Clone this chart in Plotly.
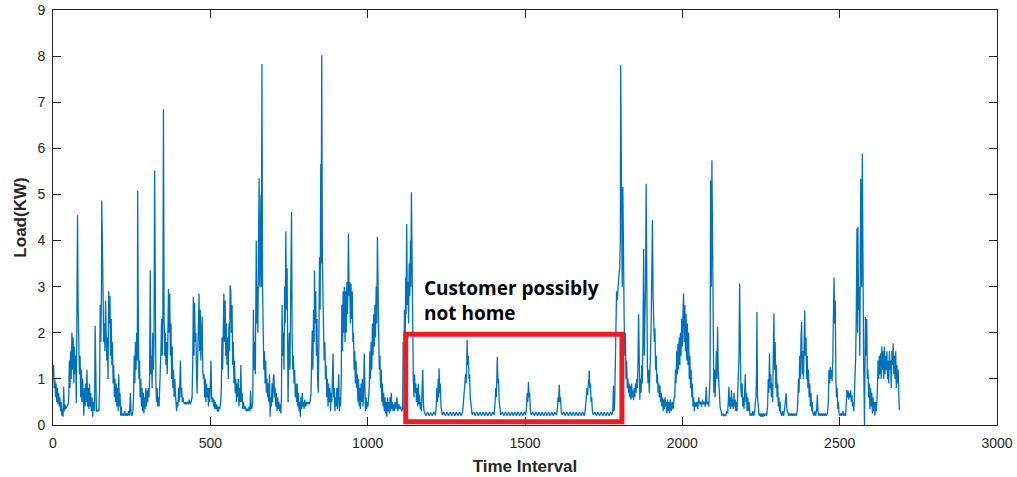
import plotly.graph_objects as go

# ---- data (time interval, load in kW) ----
seg_a = [(0,1.05),(2,1.3),(4,0.8),(6,1.0),(8,0.6),(10,0.9),(12,0.5),(14,0.8),(16,0.45),(18,0.7),(20,0.4),(22,0.6),(24,0.3),(26,0.5),(28,0.2),(30,0.35),(32,0.18),(34,0.83),(36,0.3),(38,0.45),(40,0.35),(44,0.4),(48,0.45),(50,0.6),(52,1.4),(54,0.8),(56,1.6),(58,1.0),(60,2.0),(62,1.2),(64,1.9),(66,0.9),(68,1.7),(70,1.1),(72,1.5),(74,0.47),(76,3.8),(78,4.55),(80,2.5),(82,1.5),(84,1.1),(86,1.5),(88,0.6),(90,1.2),(92,0.5),(94,1.0),(96,0.3),(98,0.2),(100,0.8),(102,0.4),(104,0.9),(106,0.5),(108,1.2),(110,0.4),(112,0.8),(114,0.35),(116,0.9),(118,0.4),(120,0.7),(122,0.3),(124,0.6),(126,0.18),(128,0.5),(130,0.3),(132,0.3),(134,2.15),(136,0.6),(138,0.3),(140,0.3),(142,0.3),(144,0.35),(146,0.3),(148,0.8),(150,2.6),(152,1.8),(154,2.9),(155,4.87),(157,3.0),(159,2.9),(161,1.8),(163,2.2),(165,1.6),(167,2.7),(169,2.0),(171,1.4),(173,1.9),(175,1.0),(177,2.9),(179,2.2),(181,2.8),(183,1.5),(185,2.3),(187,1.3),(189,1.8),(191,0.9),(193,1.3),(195,0.6),(197,1.0),(199,0.5),(201,0.9),(203,0.4),(205,0.8),(207,0.3),(209,1.1),(211,0.4),(213,0.7),(215,0.2),(217,0.4),(219,0.2)]
seg_b = [(222,0.25),(225,0.2),(228,0.3),(231,0.2),(234,0.25),(237,0.2),(240,0.3),(243,0.2),(246,0.7),(248,0.25),(251,0.2),(254,0.3),(256,0.6),(258,1.5),(260,0.9),(262,1.8),(264,1.2),(266,2.0),(268,1.4),(269,5.08),(271,2.5),(273,1.0),(275,1.4),(277,0.6),(279,1.0),(281,0.4),(283,0.8),(285,0.3),(287,0.7),(289,0.25),(291,0.6),(293,0.35),(295,0.8),(297,0.4),(299,0.75),(301,0.5),(303,0.8),(305,0.6),(307,1.0),(309,3.35),(311,1.1),(313,1.5),(315,0.8),(317,2.0),(319,1.2),(321,1.9),(323,5.52),(325,1.6),(327,0.9),(329,0.5),(331,0.8),(333,0.4),(335,0.6),(337,0.4),(339,0.7),(341,1.0),(343,1.6),(345,2.3),(347,1.5),(349,2.2),(351,6.85),(353,2.4),(355,1.5),(357,2.0),(359,1.3),(361,1.8),(363,1.1),(365,1.9),(367,2.95),(369,2.0),(371,2.85),(373,1.5),(375,2.2),(377,1.0),(379,1.7),(381,0.8),(383,1.2),(385,0.6),(387,1.0),(389,0.68),(391,0.5),(393,0.3),(395,0.5),(397,0.4),(399,0.8),(401,0.5),(403,0.9),(405,1.4),(407,0.6),(409,0.8),(411,0.5),(413,0.6),(415,0.5),(418,0.45),(421,0.5),(424,0.45),(427,0.5),(430,0.45),(433,0.55),(436,0.45),(439,0.5),(442,0.6)]
seg_c = [(444,1.3),(446,2.78),(448,1.5),(450,2.65),(452,1.8),(454,2.0),(456,1.2),(458,0.68),(460,1.5),(462,2.2),(464,2.85),(466,1.6),(468,2.5),(470,1.4),(472,2.0),(474,2.35),(476,1.2),(478,1.0),(480,1.1),(482,0.6),(484,1.0),(486,0.5),(488,0.9),(490,0.6),(492,0.8),(494,0.4),(496,0.8),(498,0.5),(500,0.9),(502,1.4),(504,0.6),(506,0.5),(508,0.6),(510,0.4),(512,0.55),(514,0.35),(516,0.5),(518,0.35),(520,0.45),(522,0.3),(524,0.4),(526,0.29),(528,0.4),(530,0.35),(533,0.5),(535,0.8),(537,1.9),(539,1.2),(541,2.0),(543,2.85),(545,1.8),(547,2.7),(549,1.5),(551,2.2),(553,1.3),(555,1.9),(557,1.0),(559,2.2),(561,1.6),(563,3.03),(565,2.9),(567,2.0),(569,2.6),(571,1.3),(573,1.8),(575,0.9),(577,1.4),(579,0.7),(581,1.0),(583,0.5),(585,0.9),(587,0.6),(589,1.0),(591,0.4),(593,0.8),(595,0.5),(597,1.3),(599,0.5),(601,0.7),(603,0.35),(605,0.5),(608,0.35),(611,0.4),(614,0.3),(617,0.35),(620,0.3),(623,0.4),(626,0.3),(628,0.75),(630,0.35),(633,0.4),(635,0.5)]
seg_d = [(637,2.5),(639,1.2),(641,1.8),(643,1.1),(646,4.0),(648,2.2),(649,3.0),(651,2.0),(653,3.2),(655,5.35),(657,3.0),(659,4.0),(661,5.0),(662,3.0),(664,7.83),(666,3.0),(668,2.0),(670,1.2),(672,1.6),(674,0.9),(676,1.4),(678,0.7),(680,1.0),(682,0.6),(684,0.9),(686,0.5),(688,1.1),(690,0.18),(692,0.6),(694,0.4),(696,0.9),(698,0.5),(700,1.0),(702,1.1),(704,0.6),(706,0.8),(708,0.4),(710,0.7),(712,0.3),(714,0.6),(716,0.35),(718,0.5),(720,0.3),(722,0.45),(724,0.25),(726,0.6),(728,2.6),(730,1.5),(732,2.0),(734,1.2),(736,3.0),(738,2.2),(740,4.2),(742,2.5),(744,3.4),(746,1.8),(747,0.5),(749,1.5),(751,2.0),(753,1.2),(755,2.8),(756,3.2),(758,4.62),(760,2.0),(762,1.2),(764,1.5),(766,0.9),(768,1.2),(770,0.6),(772,0.9),(774,0.5),(776,0.9),(778,0.4),(780,0.7),(782,0.3),(784,0.5),(786,0.18),(788,0.6),(790,0.35),(792,0.7),(794,0.4),(796,0.5),(798,0.35),(800,0.55),(803,0.4),(806,0.5),(809,0.45),(812,0.5),(815,0.45),(818,0.55),(820,0.7)]
seg_e = [(822,1.5),(824,2.05),(826,1.2),(828,2.5),(830,1.8),(831,3.35),(833,2.2),(835,2.9),(837,1.5),(839,2.3),(841,1.0),(843,0.7),(845,1.8),(847,3.64),(849,2.5),(851,5.66),(852,3.5),(854,8.02),(856,3.6),(858,2.2),(860,2.0),(862,1.4),(864,1.8),(866,1.0),(868,1.3),(870,0.6),(872,1.0),(874,0.4),(876,0.9),(878,0.5),(880,0.8),(882,0.3),(884,0.7),(886,0.5),(888,1.0),(890,1.55),(892,0.6),(894,0.8),(896,0.3),(898,0.6),(900,0.4),(902,0.8),(904,0.35),(906,0.9),(908,1.1),(910,0.3),(912,0.6),(914,0.4),(916,1.0),(918,2.6),(920,1.6),(922,2.9),(924,2.0),(926,3.0),(928,1.8),(930,2.9),(932,2.0),(934,3.1),(936,2.4),(938,3.5),(939,4.15),(941,2.8),(943,3.1),(945,2.2),(947,3.07),(949,2.3),(951,2.9),(953,1.8),(955,2.0),(957,1.2),(959,1.6),(961,0.9),(963,1.4),(965,0.8),(967,1.1),(969,0.5),(971,1.0),(973,0.4),(975,0.8),(977,0.35),(979,0.9),(981,0.5),(983,1.0),(985,0.4),(987,0.7),(989,1.55),(991,0.5),(993,0.3),(995,0.6),(997,0.35),(999,0.5),(1001,0.4),(1003,0.6),(1005,0.8)]
seg_f = [(1007,1.6),(1009,1.0),(1011,1.8),(1013,1.2),(1015,2.2),(1017,1.5),(1019,2.4),(1021,1.7),(1023,2.6),(1025,1.9),(1027,3.0),(1029,2.2),(1031,4.08),(1033,2.3),(1035,2.0),(1037,1.2),(1039,1.5),(1041,0.8),(1043,1.2),(1045,0.5),(1047,0.9),(1049,0.4),(1051,0.7),(1053,0.3),(1055,0.6),(1057,0.25),(1059,0.5),(1061,0.18),(1063,0.6),(1065,0.3),(1067,0.5),(1069,0.25),(1071,0.6),(1073,0.3),(1075,0.7),(1077,0.35),(1079,0.5),(1081,0.3),(1083,0.45),(1085,0.3),(1087,0.5),(1090,0.35),(1093,0.6),(1096,0.3),(1099,0.45),(1102,0.35),(1105,0.4),(1108,0.3),(1111,0.35),(1113,1.8),(1115,1.2),(1117,2.5),(1119,1.7),(1121,3.2),(1122,2.4),(1124,4.36),(1126,2.6),(1128,3.1),(1130,2.2),(1132,3.5),(1134,2.8),(1136,4.0),(1137,3.0),(1139,5.05),(1141,3.5),(1143,1.8),(1145,1.0),(1147,0.6),(1149,1.1),(1151,0.7),(1153,0.9),(1155,0.5),(1157,0.8),(1159,0.4),(1161,0.9),(1163,0.45),(1165,0.65),(1167,0.35),(1169,0.5),(1171,0.3),(1173,0.7),(1175,1.2),(1177,0.5),(1179,0.3),(1182,0.25)]
seg_g = [(1185,0.2),(1190,0.28),(1195,0.2),(1200,0.27),(1205,0.2),(1210,0.28),(1215,0.21),(1218,0.4),(1220,0.8),(1222,0.5),(1224,1.0),(1226,0.6),(1227,1.23),(1229,0.7),(1231,0.9),(1233,0.4),(1235,0.3),(1237,0.22),(1242,0.28),(1247,0.2),(1252,0.28),(1257,0.2),(1262,0.28),(1267,0.2),(1272,0.28),(1277,0.2),(1282,0.28),(1287,0.2),(1292,0.28),(1297,0.2),(1302,0.3),(1305,0.5),(1307,0.7),(1309,0.9),(1311,1.1),(1313,0.9),(1315,1.4),(1316,1.85),(1318,1.3),(1320,1.5),(1322,1.0),(1324,1.1),(1326,0.6),(1328,0.5),(1330,0.3),(1332,0.22),(1337,0.28),(1342,0.2),(1347,0.28),(1352,0.2),(1357,0.28),(1362,0.2),(1367,0.28),(1372,0.2),(1377,0.28),(1382,0.2),(1387,0.28),(1392,0.2),(1397,0.28),(1402,0.22),(1405,0.5),(1407,0.8),(1409,0.6),(1411,1.2),(1412,1.48),(1414,0.9),(1416,1.0),(1418,0.5),(1420,0.3),(1423,0.22),(1428,0.28),(1433,0.2),(1438,0.28),(1443,0.2),(1448,0.28),(1453,0.2),(1458,0.28),(1463,0.2),(1468,0.28),(1473,0.2),(1478,0.28),(1483,0.2),(1488,0.28),(1493,0.2),(1498,0.28),(1502,0.22),(1505,0.4),(1507,0.7),(1509,0.5),(1511,0.94),(1513,0.6),(1515,0.7),(1517,0.3),(1520,0.22),(1525,0.28),(1530,0.2),(1535,0.28),(1540,0.2),(1545,0.28),(1550,0.2),(1555,0.28),(1560,0.2),(1565,0.28),(1570,0.2),(1575,0.28),(1580,0.2),(1585,0.28),(1590,0.2),(1595,0.28),(1600,0.22),(1603,0.35),(1605,0.6),(1607,0.5),(1609,0.87),(1611,0.5),(1613,0.6),(1615,0.3),(1618,0.22),(1623,0.28),(1628,0.2),(1633,0.28),(1638,0.2),(1643,0.28),(1648,0.2),(1653,0.28),(1658,0.2),(1663,0.28),(1668,0.2),(1673,0.28),(1678,0.2),(1683,0.28),(1688,0.2),(1691,0.3),(1693,0.4),(1695,0.6),(1697,0.8),(1699,0.65),(1701,0.9),(1703,1.0),(1704,1.18),(1706,0.8),(1708,0.9),(1710,0.5),(1712,0.6),(1714,0.3),(1717,0.22),(1722,0.28),(1727,0.2),(1732,0.28),(1737,0.2),(1742,0.28),(1747,0.2),(1752,0.28),(1757,0.2),(1762,0.28),(1767,0.2),(1772,0.28),(1776,0.22)]
seg_h = [(1779,0.3),(1781,0.85),(1783,0.3),(1785,0.5),(1787,1.5),(1789,2.6),(1791,2.9),(1793,2.7),(1795,3.0),(1797,3.1),(1799,3.3),(1801,3.4),(1803,4.0),(1804,7.8),(1806,4.5),(1807,6.35),(1809,3.0),(1811,5.16),(1813,3.0),(1815,2.35),(1817,1.5),(1819,2.0),(1821,1.0),(1823,1.4),(1825,0.8),(1827,1.0),(1829,0.7),(1831,0.9),(1833,0.6),(1835,0.85),(1837,0.55),(1839,0.9),(1841,0.6),(1843,0.75),(1845,0.54),(1847,0.8),(1849,0.6),(1851,0.9),(1853,0.7),(1855,1.0),(1857,0.8),(1859,1.3),(1861,2.4),(1863,0.8),(1865,0.55),(1867,1.0),(1869,0.7),(1871,1.3),(1873,0.9),(1875,2.0),(1877,3.82),(1879,1.5),(1881,2.2),(1883,3.0),(1885,5.23),(1887,2.0),(1889,1.3),(1891,0.9),(1893,1.2),(1895,0.7),(1897,1.0),(1899,1.6),(1901,2.2),(1903,3.2),(1905,4.44),(1907,2.8),(1909,2.4),(1911,1.8),(1913,2.1),(1915,1.2),(1917,1.5),(1919,0.9),(1921,1.1),(1923,0.7),(1925,0.9),(1927,0.6),(1929,0.85),(1931,0.5),(1933,0.7),(1935,0.4),(1937,0.6),(1939,0.3),(1941,0.55),(1943,0.35),(1945,0.6),(1947,0.4),(1949,0.5),(1951,0.25),(1953,0.55),(1955,0.3),(1957,0.5),(1959,0.25),(1962,0.55),(1965,0.3),(1968,0.5),(1971,0.35),(1974,0.6)]
seg_i = [(1976,0.6),(1978,1.2),(1980,0.9),(1982,1.6),(1984,1.1),(1986,1.76),(1988,1.2),(1990,1.9),(1992,1.3),(1994,2.0),(1996,1.5),(1998,2.3),(2000,1.7),(2002,2.4),(2004,2.85),(2006,1.8),(2008,2.6),(2010,1.6),(2012,2.4),(2014,1.4),(2016,2.2),(2018,1.3),(2020,2.0),(2022,1.0),(2024,1.5),(2026,0.8),(2028,1.2),(2030,0.6),(2032,0.9),(2034,0.4),(2036,0.6),(2038,0.3),(2040,0.5),(2043,0.4),(2046,0.5),(2049,0.35),(2052,0.6),(2055,0.45),(2058,0.5),(2061,0.4),(2064,0.55),(2067,0.45),(2070,0.5),(2073,0.4),(2076,0.83),(2078,0.45),(2081,0.5),(2084,0.4),(2086,0.6),(2088,1.0),(2090,5.3),(2092,3.0),(2094,5.74),(2096,3.3),(2098,1.4),(2100,0.7),(2102,1.2),(2104,0.6),(2106,1.0),(2108,1.6),(2110,1.0),(2112,2.13),(2114,1.2),(2116,0.8),(2118,0.6),(2120,0.4),(2123,0.3),(2126,0.2),(2129,0.25),(2132,0.2),(2135,0.22),(2138,0.2),(2141,0.3),(2144,0.25),(2146,0.5),(2148,0.83),(2150,0.4),(2152,0.6),(2154,0.35),(2156,0.76),(2158,0.4),(2160,0.55),(2162,0.35),(2164,0.7),(2166,0.4),(2168,0.55),(2170,0.3),(2172,0.5),(2174,0.3),(2176,0.6),(2178,0.9),(2180,1.5),(2182,3.07),(2184,1.4),(2186,0.8),(2188,0.6),(2190,0.9),(2192,0.4),(2194,0.6),(2196,0.35),(2198,0.7),(2200,1.1),(2202,0.5),(2204,0.7),(2206,0.3),(2208,0.6),(2210,0.3),(2212,0.5),(2215,0.2),(2218,0.25),(2221,0.2),(2224,0.3),(2227,0.2),(2230,0.3),(2232,0.5),(2234,0.6),(2236,1.2),(2237,2.45),(2239,0.6),(2241,0.3),(2244,0.2),(2247,0.25),(2250,0.18),(2253,0.25),(2256,0.18),(2259,0.25),(2262,0.2),(2265,0.25),(2268,0.2),(2271,0.4)]
seg_j = [(2273,1.0),(2275,0.7),(2277,1.55),(2279,0.8),(2281,1.1),(2283,0.6),(2285,0.9),(2287,0.5),(2289,1.5),(2291,2.42),(2293,1.2),(2295,1.8),(2297,0.8),(2299,1.3),(2301,0.6),(2303,0.9),(2305,0.4),(2307,0.6),(2309,0.3),(2311,0.5),(2313,0.25),(2316,0.2),(2319,0.3),(2322,0.2),(2325,0.35),(2328,0.5),(2330,0.69),(2332,0.35),(2335,0.25),(2338,0.2),(2341,0.25),(2344,0.2),(2347,0.25),(2350,0.2),(2353,0.25),(2356,0.2),(2359,0.25),(2362,0.2),(2365,0.3),(2367,0.5),(2369,1.0),(2371,0.7),(2373,1.5),(2375,1.0),(2377,1.84),(2379,2.24),(2381,1.1),(2383,1.6),(2385,1.0),(2387,1.84),(2389,2.49),(2391,1.5),(2393,1.9),(2395,1.0),(2397,1.5),(2399,0.8),(2401,1.2),(2403,0.6),(2405,0.9),(2407,0.4),(2409,0.7),(2411,0.3),(2413,0.5),(2415,0.25),(2418,0.2),(2421,0.3),(2424,0.2),(2427,0.35),(2429,0.65),(2431,0.3),(2434,0.2),(2437,0.25),(2440,0.2),(2443,0.25),(2446,0.2),(2449,0.25),(2452,0.2),(2455,0.25),(2458,0.2),(2461,0.25),(2464,0.5),(2466,1.19),(2468,0.9),(2470,1.26),(2472,1.0),(2474,1.2),(2476,0.95),(2478,1.35),(2480,2.0),(2482,3.2),(2484,2.2),(2486,2.7),(2488,1.0),(2490,0.6),(2492,0.8),(2494,0.35),(2496,0.5),(2498,0.25),(2501,0.2),(2504,0.25),(2507,0.2),(2510,0.3),(2513,0.2),(2516,0.25),(2519,0.2),(2521,0.5),(2523,0.76),(2525,0.6),(2527,0.75),(2529,0.55),(2531,0.7),(2533,0.6),(2535,0.75),(2537,0.5),(2539,0.65),(2541,0.4),(2543,0.5),(2545,0.3),(2547,0.6),(2549,0.9),(2551,1.5),(2553,2.5),(2555,4.26),(2557,2.0),(2558,4.3),(2560,2.5),(2562,3.0),(2564,1.5),(2566,3.5),(2567,5.34),(2569,4.5),(2570,3.0),(2572,5.88),(2574,2.0),(2576,1.5),(2578,0.5),(2579,0.0),(2580,1.0),(2582,2.34),(2584,1.5),(2586,2.3),(2588,1.0),(2590,1.2),(2592,0.6),(2594,0.9),(2596,0.35),(2598,0.8),(2600,0.4),(2602,0.7),(2604,0.25),(2606,0.6),(2608,0.3),(2610,0.5),(2612,0.2),(2614,0.5),(2616,0.3),(2618,0.45),(2620,0.8),(2622,1.4),(2624,1.0),(2626,1.5),(2628,1.1),(2630,1.55),(2632,1.0),(2634,1.7),(2636,1.2),(2638,1.6),(2640,1.0),(2642,1.7),(2644,1.1),(2646,1.5),(2648,1.2),(2650,1.6),(2652,1.0),(2654,1.4),(2656,0.9),(2658,1.6),(2660,1.2),(2662,1.4),(2664,0.8),(2666,1.6),(2668,1.3),(2670,1.77),(2672,1.1),(2674,1.5),(2676,1.0),(2678,1.6),(2680,0.8),(2682,1.3),(2684,0.9),(2686,1.2),(2688,0.6),(2690,0.32)]

x_ticks = [0, 500, 1000, 1500, 2000, 2500, 3000]
y_ticks = [0, 1, 2, 3, 4, 5, 6, 7, 8, 9]
box_range_t = [1121, 1808]
box_range_kw = [0.07, 1.97]
note_text = "Customer possibly<br>not home"

segments = [seg_a, seg_b, seg_c, seg_d, seg_e, seg_f, seg_g, seg_h, seg_i, seg_j]
time_interval = [p[0] for s in segments for p in s]
load_kw = [p[1] for s in segments for p in s]

axis_col = "#262626"
fig = go.Figure()
fig.add_trace(go.Scatter(x=time_interval, y=load_kw, mode="lines",
                         line=dict(color="#0072BD", width=1.3), showlegend=False,
                         hoverinfo="skip"))

fig.add_shape(type="rect", xref="x", yref="y",
              x0=box_range_t[0], x1=box_range_t[1], y0=box_range_kw[0], y1=box_range_kw[1],
              line=dict(color="#ED1C24", width=5), layer="above")

fig.add_annotation(x=1174, y=2.7, xref="x", yref="y", text=note_text,
                   showarrow=False, xanchor="left", yanchor="middle", align="left",
                   font=dict(family="Open Sans", size=19, color="black", weight="bold"))

axis_common = dict(showline=True, linecolor=axis_col, linewidth=1, mirror="ticks",
                   ticks="inside", ticklen=8, tickcolor=axis_col, tickwidth=1,
                   showgrid=False, zeroline=False, automargin=False,
                   tickfont=dict(family="Liberation Sans", size=14, color=axis_col))

fig.update_xaxes(range=[0, 3000], tickvals=x_ticks, ticktext=[str(v) for v in x_ticks],
                 ticklabelstandoff=5,
                 title=dict(text="Time Interval", standoff=10,
                            font=dict(family="Liberation Sans", size=17, color=axis_col, weight="bold")),
                 **axis_common)
fig.update_yaxes(range=[0, 9], tickvals=y_ticks, ticktext=[str(v) for v in y_ticks],
                 ticklabelstandoff=4,
                 title=dict(text="Load(KW)", standoff=6,
                            font=dict(family="Liberation Sans", size=17, color=axis_col, weight="bold")),
                 **axis_common)

fig.update_layout(width=1017, height=477, margin=dict(l=53, r=20, t=10, b=52),
                  plot_bgcolor="white", paper_bgcolor="white")

fig.write_html("out.html")
